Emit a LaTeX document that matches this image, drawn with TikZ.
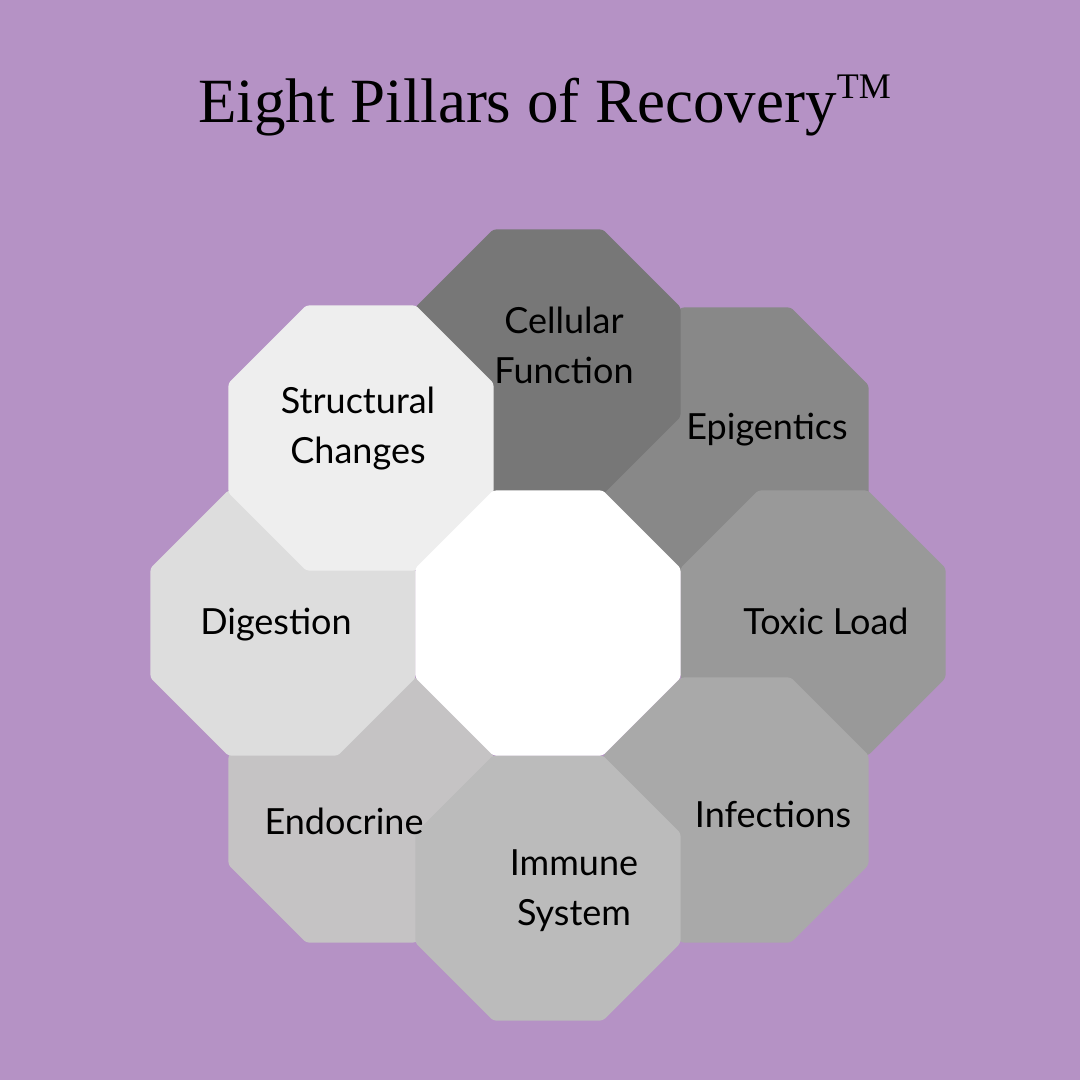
\documentclass[tikz,border=0pt]{standalone}
\usepackage{fontspec}
\setmainfont{Liberation Serif}
\newfontfamily\pillarfont{Lato}
\usetikzlibrary{shapes.geometric}

\definecolor{lilac}{HTML}{B592C5}
\definecolor{cellgray}{HTML}{777777}
\definecolor{epigray}{HTML}{888888}
\definecolor{toxgray}{HTML}{999999}
\definecolor{infgray}{HTML}{A9A9A9}
\definecolor{immgray}{HTML}{BBBBBB}
\definecolor{endogray}{HTML}{C5C3C4}
\definecolor{diggray}{HTML}{DDDDDD}
\definecolor{structgray}{HTML}{EEEEEE}

\begin{document}
\begin{tikzpicture}[
  x=1pt, y=-1pt,
  oct/.style={regular polygon, regular polygon sides=8, minimum size=287pt,
              inner sep=0pt, outer sep=0pt, rounded corners=3pt},
  lab/.style={font=\pillarfont\fontsize{36}{50}\selectfont, align=center,
              anchor=base, inner sep=0pt}
]
  \fill[lilac] (0,0) rectangle (1080,1080);
  \useasboundingbox (0,0) rectangle (1080,1080);

  \node[font=\fontsize{63}{70}\selectfont, anchor=base west, inner sep=0pt] (title) at (198,122)
    {Eight Pillars of Recovery\raisebox{24pt}{\fontsize{36}{36}\selectfont TM}};

  % outer ring, back to front
  \node[oct, fill=epigray]    (epi)    at (736,440) {};
  \node[oct, fill=cellgray]   (cell)   at (548,362) {};
  \node[oct, fill=toxgray]    (tox)    at (813,623) {};
  \node[oct, fill=infgray]    (inf)    at (736,810) {};
  \node[oct, fill=endogray]   (endo)   at (361,810) {};
  \node[oct, fill=diggray]    (dig)    at (283,623) {};
  \node[oct, fill=immgray]    (imm)    at (548,888) {};
  \node[oct, fill=structgray] (struct) at (361,438) {};
  \node[oct, fill=white]      (hub)    at (548,623) {};

  % two-line labels sit on their last baseline
  \node[lab] (cell-t)   at (564,383) {Cellular\\Function};
  \node[lab] (struct-t) at (358,463) {Structural\\Changes};
  \node[lab] (epi-t)    at (767,439) {Epigentics};
  \node[lab] (tox-t)    at (826,634) {Toxic Load};
  \node[lab] (dig-t)    at (276,634) {Digestion};
  \node[lab] (inf-t)    at (773,827) {Infections};
  \node[lab] (endo-t)   at (344,834) {Endocrine};
  \node[lab] (imm-t)    at (574,925) {Immune\\System};
\end{tikzpicture}
\end{document}
